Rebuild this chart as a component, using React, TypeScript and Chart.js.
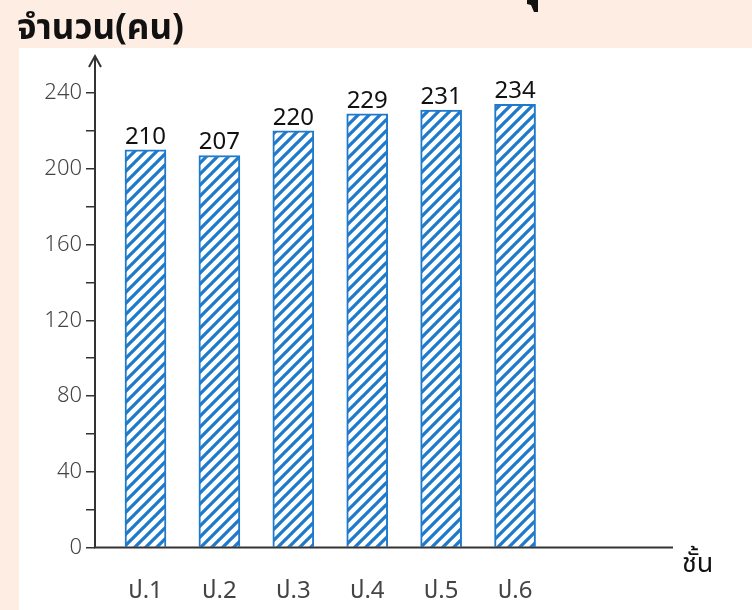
import React, { useEffect, useRef } from "react";
import { Chart, registerables } from "chart.js";

Chart.register(...registerables);

const categories = ["ป.1", "ป.2", "ป.3", "ป.4", "ป.5", "ป.6"];
const students = [210, 207, 220, 229, 231, 234];
const yTickValues = [0, 40, 80, 120, 160, 200, 240];
const titleText = "จำนวน(คน)";
const xAxisTitle = "ชั้น";

const BLUE = "#1f7acb";
const PEACH = "#fdede2";
const FONT = "'Noto Sans', 'Noto Sans Thai', 'DejaVu Sans', sans-serif";

function makePattern(): CanvasPattern | string {
  const s = 11;
  const c = document.createElement("canvas");
  c.width = s;
  c.height = s;
  const g = c.getContext("2d");
  if (!g) return BLUE;
  g.fillStyle = "#ffffff";
  g.fillRect(0, 0, s, s);
  g.strokeStyle = BLUE;
  g.lineWidth = 3.3;
  g.beginPath();
  g.moveTo(-s, s * 2);
  g.lineTo(s * 2, -s);
  g.moveTo(-s, s);
  g.lineTo(s, -s);
  g.moveTo(0, s * 2);
  g.lineTo(s * 2, 0);
  g.stroke();
  const p = g.createPattern(c, "repeat");
  return p || BLUE;
}

const decorPlugin = {
  id: "decor",
  beforeDraw(chart: any) {
    const ctx = chart.ctx;
    ctx.save();
    ctx.fillStyle = PEACH;
    ctx.fillRect(0, 0, chart.width, chart.height);
    ctx.fillStyle = "#ffffff";
    ctx.fillRect(19, 48, chart.width - 19, chart.height - 48);
    // title
    ctx.fillStyle = "#111";
    ctx.font = `bold 35px ${FONT}`;
    ctx.textAlign = "left";
    ctx.textBaseline = "alphabetic";
    ctx.fillText(titleText, 17, 39);
    // cut-off glyph fragment at the top
    ctx.beginPath();
    ctx.moveTo(527, 0);
    ctx.lineTo(538, 0);
    ctx.lineTo(538, 12);
    ctx.lineTo(534, 12);
    ctx.lineTo(531, 5);
    ctx.lineTo(527, 4);
    ctx.closePath();
    ctx.fill();
    ctx.restore();
  },
  afterDraw(chart: any) {
    const ctx = chart.ctx;
    const { left, right, bottom } = chart.chartArea;
    const yTop = chart.scales.y.getPixelForValue(240) - 37;
    ctx.save();
    ctx.strokeStyle = "#333";
    ctx.lineWidth = 2;
    ctx.beginPath();
    ctx.moveTo(left, bottom);
    ctx.lineTo(left, yTop);
    ctx.moveTo(left - 6, yTop + 11);
    ctx.lineTo(left, yTop);
    ctx.lineTo(left + 6, yTop + 11);
    ctx.moveTo(left - 1, bottom);
    ctx.lineTo(right, bottom);
    ctx.stroke();
    // x axis title
    ctx.fillStyle = "#111";
    ctx.font = `27px ${FONT}`;
    ctx.textAlign = "left";
    ctx.textBaseline = "alphabetic";
    ctx.fillText(xAxisTitle, right + 9, bottom + 24);
    // value labels
    const meta = chart.getDatasetMeta(0);
    ctx.font = `24px ${FONT}`;
    ctx.textAlign = "center";
    ctx.textBaseline = "alphabetic";
    ctx.fillStyle = "#111";
    meta.data.forEach((el: any, i: number) => {
      ctx.fillText(String(students[i]), el.x, el.y - 6);
    });
    ctx.restore();
  },
};

export default function App() {
  const ref = useRef<HTMLCanvasElement | null>(null);
  useEffect(() => {
    if (!ref.current) return;
    const pattern = makePattern();
    const chart = new Chart(ref.current, {
      type: "bar",
      data: {
        datasets: [
          {
            data: students.map((v, i) => ({ x: i + 1, y: v })),
            backgroundColor: pattern as any,
            borderColor: BLUE,
            borderWidth: 2,
            barThickness: 41,
          },
        ],
      },
      options: {
        animation: false,
        responsive: false,
        maintainAspectRatio: false,
        devicePixelRatio: 1,
        layout: { padding: { top: 93, right: 79, left: 0, bottom: 0 } },
        plugins: { legend: { display: false }, tooltip: { enabled: false } },
        scales: {
          x: {
            type: "linear",
            offset: false,
            min: 0.317,
            max: 8.137,
            grid: { display: false, offset: false },
            border: { display: false },
            afterFit: (s: any) => {
              s.height = 62.5;
            },
            afterBuildTicks: (s: any) => {
              s.ticks = categories.map((_, i) => ({ value: i + 1 }));
            },
            ticks: {
              autoSkip: false,
              maxRotation: 0,
              padding: 21,
              color: "#444",
              font: { family: FONT, size: 24 },
              callback: (v: any) => categories[Math.round(Number(v)) - 1] ?? "",
            },
          },
          y: {
            min: 0,
            max: 240,
            afterFit: (s: any) => {
              s.width = 95;
            },
            grid: {
              display: true,
              drawOnChartArea: false,
              drawTicks: true,
              tickLength: 9,
              color: "#333",
              lineWidth: 1.5,
            },
            border: { display: false },
            ticks: {
              stepSize: 20,
              padding: 4,
              color: "#444",
              font: { family: FONT, size: 22, weight: 300 as any },
              callback: (v: any) => (yTickValues.includes(Number(v)) ? String(v) : ""),
            },
          },
        },
      },
      plugins: [decorPlugin],
    });
    return () => chart.destroy();
  }, []);
  return (
    <div style={{ position: "fixed", left: 0, top: 0, width: 752, height: 610 }}>
      <canvas ref={ref} width={752} height={610} style={{ width: 752, height: 610, display: "block" }} />
    </div>
  );
}
